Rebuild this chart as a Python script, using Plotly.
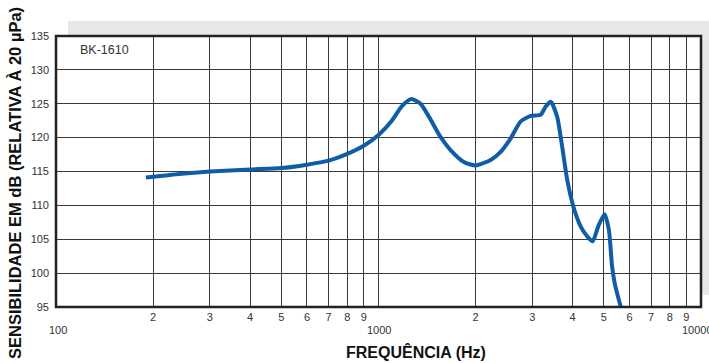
import numpy as np
import plotly.graph_objects as go

# Data
freq_hz = [190, 250, 300, 400, 500, 600, 700, 800, 900, 1000, 1100, 1180, 1264, 1350, 1433,
           1557, 1670, 1840, 2000, 2227, 2392, 2570, 2761, 2965, 3186, 3301, 3420, 3580,
           3710, 3850, 4050, 4290, 4610, 4800, 5020, 5180, 5300, 5400, 5640]
sens_db = [114.1, 114.7, 115.0, 115.3, 115.5, 116.0, 116.6, 117.6, 118.8, 120.4, 122.5, 124.6, 125.7, 125.0, 123.1,
           120.1, 118.2, 116.4, 115.9, 116.7, 117.9, 119.9, 122.4, 123.2, 123.4, 124.6, 125.3, 123.1,
           118.7, 113.7, 109.3, 106.4, 104.7, 106.9, 108.7, 106.4, 101.0, 98.5, 95.0]

minor_digits = [2, 3, 4, 5, 6, 7, 8, 9]
decades = [100, 1000, 10000]
y_ticks = [95, 100, 105, 110, 115, 120, 125, 130, 135]
model_label = "BK-1610"
x_title = "FREQUÊNCIA (Hz)"
y_title = "SENSIBILIDADE EM dB (RELATIVA À 20 µPa)"

tickvals, ticktext = [], []
for d in decades:
    tickvals.append(d)
    ticktext.append("")
    if d < 10000:
        for m in minor_digits:
            tickvals.append(d * m)
            ticktext.append(str(m))

fig = go.Figure()
fig.add_trace(go.Scatter(
    x=freq_hz, y=sens_db, mode="lines",
    line=dict(color="#0f5da6", width=4, shape="spline", smoothing=0.6),
    hoverinfo="skip", showlegend=False))

W, H = 709, 363
L, R, T, B = 56, 8, 36, 56
pw, ph = W - L - R, H - T - B

def px_x(p):
    return (p - L) / pw

def px_y(p):
    return (H - B - p) / ph

shadow = "#e6e7e8"
shapes = [
    dict(type="rect", xref="paper", yref="paper", x0=px_x(68), x1=px_x(712), y0=px_y(36), y1=px_y(21),
         fillcolor=shadow, line=dict(width=0), layer="below"),
    dict(type="rect", xref="paper", yref="paper", x0=1.0, x1=px_x(712), y0=px_y(295), y1=px_y(36),
         fillcolor=shadow, line=dict(width=0), layer="below"),
    dict(type="rect", xref="paper", yref="paper", x0=0, x1=1, y0=0, y1=1,
         line=dict(color="#222222", width=2.5), layer="above"),
]

font_fam = "Liberation Sans, Arial"
annotations = [
    dict(text=model_label, xref="paper", yref="paper", x=px_x(104), y=px_y(50),
         xanchor="center", yanchor="middle",
         showarrow=False, font=dict(family=font_fam, size=12.5, color="#333333")),
    dict(text="<b>" + x_title + "</b>", xref="paper", yref="paper", x=px_x(416), y=px_y(352),
         xanchor="center", yanchor="middle",
         showarrow=False, font=dict(family=font_fam, size=16, color="#111111")),
    dict(text="<b>" + y_title + "</b>", xref="paper", yref="paper", x=px_x(15), y=px_y(183),
         xanchor="center", yanchor="middle",
         textangle=-90, showarrow=False, font=dict(family=font_fam, size=16.5, color="#111111")),
]
for d in decades:
    annotations.append(dict(text=str(d), xref="x", yref="paper", x=np.log10(d), y=px_y(330),
                            xanchor="center", yanchor="middle",
                            showarrow=False, xshift=-4 if d == 10000 else (2 if d == 100 else 0),
                            font=dict(family=font_fam, size=11, color="#333333")))

fig.update_layout(
    width=W, height=H,
    margin=dict(l=L, r=R, t=T, b=B),
    paper_bgcolor="white", plot_bgcolor="white",
    shapes=shapes, annotations=annotations,
    xaxis=dict(type="log", range=[2, 4], tickvals=tickvals, ticktext=ticktext,
               showgrid=True, gridcolor="#3a3a3a", gridwidth=1.2, zeroline=False,
               showline=False, ticks="", ticklabelstandoff=2,
               tickfont=dict(family=font_fam, size=11, color="#333333")),
    yaxis=dict(range=[95, 135], tickvals=y_ticks, showgrid=True, gridcolor="#3a3a3a",
               gridwidth=1.2, zeroline=False, showline=False, ticks="", ticklabelstandoff=6,
               tickfont=dict(family=font_fam, size=11, color="#333333")),
)

fig.write_html("out.html", config={"displayModeBar": False},
               post_script="document.body.style.margin='0px';document.body.style.overflow='hidden';")
